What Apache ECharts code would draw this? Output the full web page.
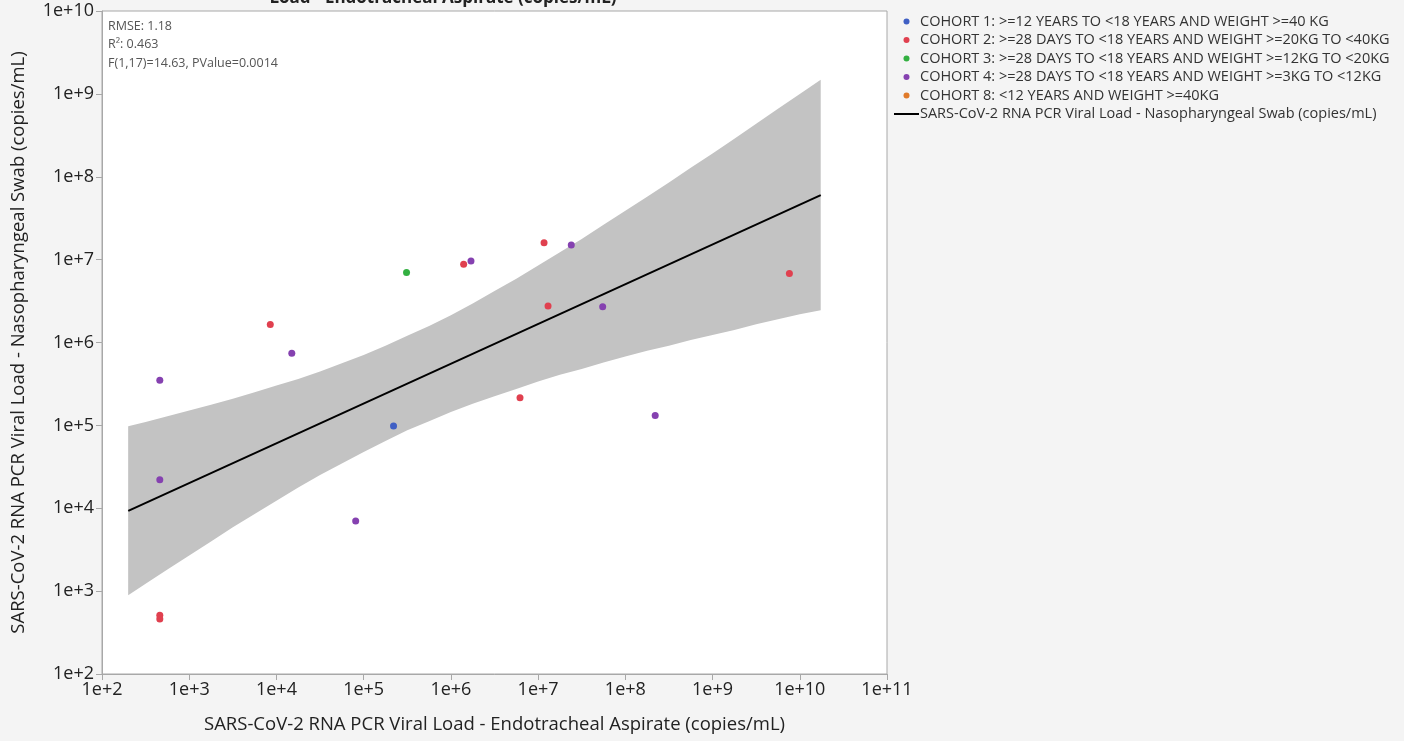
<!DOCTYPE html>
<html>
<head>
<meta charset="utf-8">
<script src="https://cdn.jsdelivr.net/npm/echarts@6/dist/echarts.min.js"></script>
<style>
html,body{margin:0;padding:0;background:#f4f4f4;}
#chart{width:1404px;height:741px;}
</style>
</head>
<body>
<div id="chart"></div>
<script>
// ---- data (copies/mL) ----
const cohortNames = [
  'COHORT 1: >=12 YEARS TO <18 YEARS AND WEIGHT >=40 KG',
  'COHORT 2: >=28 DAYS TO <18 YEARS AND WEIGHT >=20KG TO <40KG',
  'COHORT 3: >=28 DAYS TO <18 YEARS AND WEIGHT >=12KG TO <20KG',
  'COHORT 4: >=28 DAYS TO <18 YEARS AND WEIGHT >=3KG TO <12KG',
  'COHORT 8: <12 YEARS AND WEIGHT >=40KG'
];
const fitName = 'SARS-CoV-2 RNA PCR Viral Load - Nasopharyngeal Swab (copies/mL)';
const cohortColors = ['#3f5fc4', '#e0404f', '#33b041', '#8541b0', '#e07a2a'];

const cohort1 = [[2.2e5, 9.8e4]];
const cohort2 = [[8.5e3, 1.65e6], [1.4e6, 8.8e6], [1.17e7, 1.6e7], [1.3e7, 2.75e6],
                 [7.6e9, 6.8e6], [6.2e6, 2.15e5], [4.6e2, 5.1e2], [4.6e2, 4.6e2]];
const cohort3 = [[3.1e5, 7.0e6]];
const cohort4 = [[4.6e2, 3.5e5], [1.5e4, 7.4e5], [1.7e6, 9.6e6], [2.4e7, 1.5e7],
                 [5.5e7, 2.7e6], [2.2e8, 1.32e5], [4.6e2, 2.2e4], [8.1e4, 7.0e3]];
const cohort8 = [];

const fitLine = [[2.0e2, 9.3e3], [1.74e10, 6.0e7]];

// confidence band, as powers of ten
const bandXExp     = [2.30, 2.50, 2.75, 3.00, 3.25, 3.50, 3.75, 4.00, 4.25, 4.50, 4.75, 5.00,
                      5.25, 5.50, 5.75, 6.00, 6.25, 6.50, 6.75, 7.00, 7.25, 7.50, 7.75, 8.00,
                      8.25, 8.50, 8.75, 9.00, 9.25, 9.50, 9.75, 10.00, 10.24];
const bandUpperExp = [4.99, 5.04, 5.11, 5.18, 5.25, 5.32, 5.40, 5.48, 5.56, 5.65, 5.75, 5.85,
                      5.96, 6.08, 6.20, 6.33, 6.47, 6.62, 6.77, 6.93, 7.09, 7.25, 7.42, 7.59,
                      7.76, 7.93, 8.11, 8.28, 8.46, 8.64, 8.82, 9.00, 9.17];
const bandLowerExp = [2.95, 3.09, 3.26, 3.43, 3.60, 3.77, 3.93, 4.09, 4.25, 4.40, 4.54, 4.68,
                      4.81, 4.94, 5.05, 5.16, 5.26, 5.35, 5.44, 5.53, 5.61, 5.68, 5.76, 5.83,
                      5.90, 5.96, 6.03, 6.09, 6.15, 6.22, 6.28, 6.34, 6.39];

const statLines = ['RMSE: 1.18', 'R²: 0.463', 'F(1,17)=14.63, PValue=0.0014'];
const titleText = 'Load - Endotracheal Aspirate (copies/mL)';
const xName = 'SARS-CoV-2 RNA PCR Viral Load - Endotracheal Aspirate (copies/mL)';
const yName = 'SARS-CoV-2 RNA PCR Viral Load - Nasopharyngeal Swab (copies/mL)';

// ---- chart ----
const FONT = '"Open Sans", "Noto Sans", sans-serif';
const chart = echarts.init(document.getElementById('chart'));
const cohortData = [cohort1, cohort2, cohort3, cohort4, cohort8];
const expFmt = v => '1e+' + Math.round(Math.log10(v));

const bandSeries = {
  type: 'custom',
  name: 'band',
  silent: true,
  z: 1,
  data: [0],
  renderItem: function (params, api) {
    const pts = [];
    for (let i = 0; i < bandXExp.length; i++)
      pts.push(api.coord([Math.pow(10, bandXExp[i]), Math.pow(10, bandUpperExp[i])]));
    for (let i = bandXExp.length - 1; i >= 0; i--)
      pts.push(api.coord([Math.pow(10, bandXExp[i]), Math.pow(10, bandLowerExp[i])]));
    return { type: 'polygon', shape: { points: pts }, style: { fill: '#c3c3c3' } };
  }
};

const scatterSeries = cohortNames.map((n, i) => ({
  type: 'scatter',
  name: n,
  data: cohortData[i],
  symbolSize: 7,
  z: 3,
  itemStyle: { color: cohortColors[i], opacity: 1 }
}));

chart.setOption({
  backgroundColor: '#f4f4f4',
  animation: false,
  textStyle: { fontFamily: FONT },
  grid: {
    left: 102, right: 517, top: 11, bottom: 67,
    outerBoundsMode: 'none', containLabel: false,
    show: true, backgroundColor: '#ffffff', borderColor: '#a8a8a8', borderWidth: 1
  },
  legend: {
    orient: 'vertical',
    left: 888, top: 9,
    itemWidth: 25, itemHeight: 6, itemGap: 3.5,
    textStyle: { fontFamily: FONT, fontSize: 14.5, color: '#333', padding: [0, 0, 0, -4] },
    data: cohortNames.map(n => ({ name: n, icon: 'circle' }))
      .concat([{ name: fitName, itemStyle: { opacity: 0 } }])
  },
  xAxis: {
    type: 'log', logBase: 10, min: 100, max: 1e11, splitNumber: 9,
    name: xName, nameLocation: 'middle', nameGap: 41,
    nameTextStyle: { fontFamily: FONT, fontSize: 18.5, color: '#222' },
    axisLine: { lineStyle: { color: '#a8a8a8' } },
    axisTick: { length: 6, lineStyle: { color: '#a8a8a8' } },
    axisLabel: { formatter: expFmt, fontFamily: FONT, fontSize: 18, color: '#222', margin: 7 },
    splitLine: { show: false }, minorTick: { show: false }
  },
  yAxis: {
    type: 'log', logBase: 10, min: 100, max: 1e10, splitNumber: 8,
    name: yName, nameLocation: 'middle', nameGap: 74,
    nameTextStyle: { fontFamily: FONT, fontSize: 18.5, color: '#222' },
    axisLine: { show: true, lineStyle: { color: '#a8a8a8' } },
    axisTick: { show: true, length: 6, lineStyle: { color: '#a8a8a8' } },
    axisLabel: { formatter: expFmt, fontFamily: FONT, fontSize: 18, color: '#222', margin: 8 },
    splitLine: { show: false }
  },
  graphic: [
    {
      type: 'text', x: 443, y: 7, z: 10,
      style: { text: titleText, font: 'bold 17px ' + FONT, fill: '#222',
               align: 'center', verticalAlign: 'bottom' }
    },
    {
      type: 'text', left: 108, top: 17, z: 10,
      style: { text: statLines.join('\n'), font: '12.5px ' + FONT, fill: '#555', lineHeight: 18.5 }
    }
  ],
  series: [bandSeries].concat(scatterSeries).concat([{
    type: 'line',
    name: fitName,
    data: fitLine,
    symbol: 'none',
    z: 2,
    lineStyle: { color: '#000', width: 2 },
    itemStyle: { color: '#000' }
  }])
});
</script>
</body>
</html>
